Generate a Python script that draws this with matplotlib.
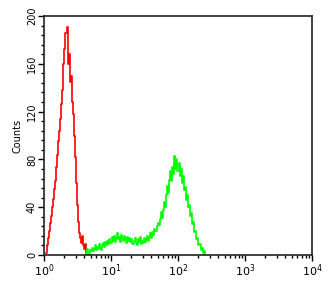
import numpy as np
import matplotlib
matplotlib.use('Agg')
import matplotlib.pyplot as plt
from matplotlib.ticker import MultipleLocator, LogLocator

# channel resolution: 64 channels per decade, 4 decades
CH_PER_DECADE = 64

red_start = 2
red_counts = [2, 8, 14, 20, 27, 33, 40, 47, 55, 62, 74, 84, 95, 104, 114, 126,
              138, 160, 172, 186, 191, 160, 168, 145, 150, 128, 118, 100, 82,
              60, 42, 28, 18, 14, 10, 16, 8, 5, 9, 2, 0]

green_start = 40
green_counts = [0, 2, 5, 1, 4, 3,
                6, 3, 5, 8, 4, 7, 5, 9, 6, 4, 8, 10, 7,
                11, 8, 12, 9, 13, 10, 15,
                12, 16, 11, 14, 18, 13, 15, 11, 17, 14, 12, 16, 13, 10, 15, 12, 14, 11, 13,
                9, 12, 14, 10, 8, 13, 11, 15, 9, 12, 10, 14, 11, 13, 16, 12, 15, 18, 14,
                19, 17, 22, 20, 24, 27, 25,
                30, 36, 31, 38, 44, 40, 50, 58, 52, 63, 70, 62, 74, 68, 83,
                72, 80, 70, 77, 66, 72, 60, 66, 54, 57, 46, 50, 40, 42, 33, 35, 26,
                28, 19, 20, 13, 14, 8, 9, 4, 6, 2, 3, 0]

y_ticks = [0, 40, 80, 120, 160, 200]


def channel_x(start, counts):
    ch = np.arange(start, start + len(counts))
    return 10 ** (ch / CH_PER_DECADE)


fig = plt.figure(figsize=(3.34, 3.0), dpi=100)
ax = fig.add_axes([44 / 334, 45 / 300, 268 / 334, 239 / 300])

ax.plot(channel_x(red_start, red_counts), red_counts, drawstyle='steps-mid',
        color='#ff0000', lw=1.2)
ax.plot(channel_x(green_start, green_counts), green_counts, drawstyle='steps-mid',
        color='#00ff00', lw=1.2)

ax.set_xscale('log')
ax.set_xlim(1, 1e4)
ax.set_ylim(0, 200)
ax.set_yticks(y_ticks)
ax.yaxis.set_minor_locator(MultipleLocator(8))
ax.xaxis.set_major_locator(LogLocator(base=10))
ax.xaxis.set_minor_locator(LogLocator(base=10, subs=np.arange(2, 10)))

ax.tick_params(which='both', direction='out', width=1, colors='black')
ax.tick_params(which='major', length=4)
ax.tick_params(which='minor', length=2.5)
ax.tick_params(axis='x', labelsize=8, pad=1)
ax.tick_params(axis='y', labelsize=7, pad=1)
for lab in ax.get_yticklabels():
    lab.set_rotation(90)
    lab.set_va('center')

for s in ax.spines.values():
    s.set_linewidth(1.2)
    s.set_color('#222222')

ax.set_ylabel('Counts', fontsize=7, labelpad=3)

plt.savefig('out.png', dpi=100)
